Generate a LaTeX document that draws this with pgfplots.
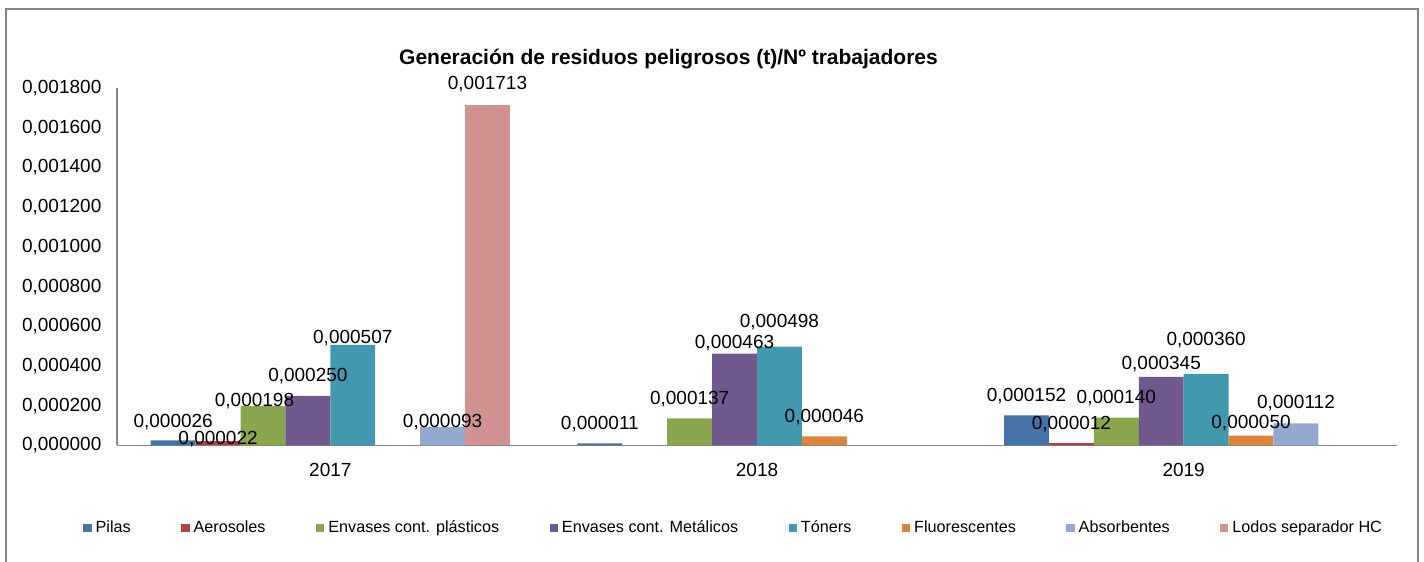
\documentclass[border=0pt]{standalone}
\usepackage{fontspec}
\setmainfont{Liberation Sans}
\usepackage{pgfplots}
\pgfplotsset{compat=1.18}

\definecolor{cPilas}{HTML}{4572A7}
\definecolor{cAero}{HTML}{AA4643}
\definecolor{cPlast}{HTML}{89A54E}
\definecolor{cMetal}{HTML}{71588F}
\definecolor{cToner}{HTML}{4198AF}
\definecolor{cFluor}{HTML}{DB843D}
\definecolor{cAbsor}{HTML}{93A9CF}
\definecolor{cLodos}{HTML}{D19392}
\definecolor{frameGray}{HTML}{868686}

\pgfplotsset{
  sq/.style={legend image code/.code={\fill[##1] (0pt,-2.1pt) rectangle (4.2pt,2.1pt);}},
}

\begin{document}
\begin{tikzpicture}
\useasboundingbox (0,0) rectangle (712pt,281pt);
% outer chart frame (bottom edge is off the picture)
\draw[frameGray, line width=0.8pt] (3pt,-5pt) -- (3pt,276.6pt) -- (709pt,276.6pt) -- (709pt,-5pt);

\node[font=\bfseries\fontsize{10.5}{12}\selectfont] at (334.25pt,251.5pt)
  {Generación de residuos peligrosos (t)/Nº trabajadores};

\begin{axis}[
  at={(58.5pt,58.25pt)}, anchor=south west,
  scale only axis,
  width=640pt, height=178.75pt,
  ybar=0pt,
  bar width=22.45pt,
  xmin=-0.5, xmax=2.5,
  ymin=0, ymax=0.0018,
  xtick={0,1,2},
  xticklabels={2017,2018,2019},
  ytick={0,0.0002,0.0004,0.0006,0.0008,0.001,0.0012,0.0014,0.0016,0.0018},
  scaled y ticks=false,
  /pgf/number format/assume math mode=true,
  yticklabel style={anchor=east, xshift=-4.3pt,
    /pgf/number format/fixed, /pgf/number format/fixed zerofill,
    /pgf/number format/precision=6, /pgf/number format/use comma},
  xticklabel style={anchor=center, yshift=-12.25pt},
  tick label style={font=\fontsize{9.5}{11}\selectfont},
  major tick length=0pt,
  axis x line*=bottom, axis y line*=left,
  axis line style={-, draw=frameGray, line width=0.8pt},
  nodes near coords={\pgfmathprintnumber[fixed, fixed zerofill, precision=6, use comma]{\pgfplotspointmeta}},
  visualization depends on={\thisrow{dx} \as \dx},
  visualization depends on={\thisrow{dy} \as \dy},
  every node near coord/.append style={font=\fontsize{9.5}{11}\selectfont, anchor=center,
    yshift=9.65pt, xshift=\dx pt, yshift=\dy pt, text=black},
  legend columns=8,
  legend style={at={(0.4825,-0.2308)}, anchor=center, draw=none, fill=none,
    font=\fontsize{8.1}{10}\selectfont,
    /tikz/every even column/.append style={column sep=23.2pt}},
]
\addplot[fill=cPilas, draw=none, sq] table {
x y dx dy
0 0.000026 0 -0.35
1 0.000011 0 0
2 0.000152 0 0
};
\addplot[fill=cAero, draw=none, sq] table {
x y dx dy
0 0.000022 0 -8.6
2 0.000012 0 0
};
\addplot[fill=cPlast, draw=none, sq] table {
x y dx dy
0 0.000198 -4.25 -6.9
1 0.000137 0 0
2 0.000140 0 0
};
\addplot[fill=cMetal, draw=none, sq] table {
x y dx dy
0 0.000250 0 0.3
1 0.000463 0 -4.55
2 0.000345 0 -3.15
};
\addplot[fill=cToner, draw=none, sq] table {
x y dx dy
0 0.000507 0 -6.1
1 0.000498 0 2.8
2 0.000360 0 7.35
};
\addplot[fill=cFluor, draw=none, sq] table {
x y dx dy
1 0.000046 0 0.2
2 0.000050 0 -3.5
};
\addplot[fill=cAbsor, draw=none, sq] table {
x y dx dy
0 0.000093 0 -7.3
2 0.000112 0 0.35
};
\addplot[fill=cLodos, draw=none, sq] table {
x y dx dy
0 0.001713 0 1
};
\legend{Pilas, Aerosoles, Envases cont. plásticos, Envases cont. Metálicos, Tóners, Fluorescentes, Absorbentes, Lodos separador HC}
\end{axis}
\end{tikzpicture}
\end{document}
